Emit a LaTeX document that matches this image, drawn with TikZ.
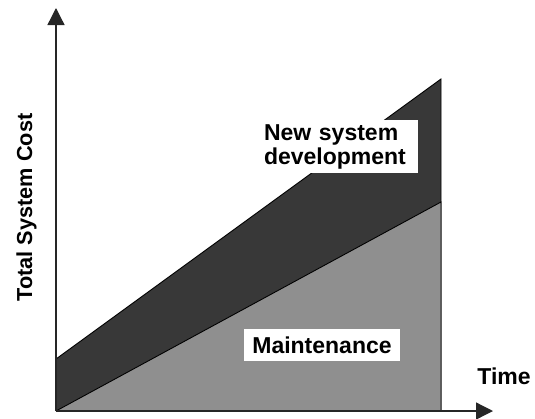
\documentclass[tikz,border=0pt]{standalone}
\usepackage{fontspec}
\setmainfont{Liberation Sans}
\usetikzlibrary{arrows.meta}
\definecolor{darkband}{gray}{0.22}
\definecolor{lightband}{gray}{0.56}
\tikzset{
  lbl/.style={font=\bfseries\fontsize{23}{24}\selectfont, text=black},
  boxlbl/.style={lbl, fill=white, inner sep=0pt, align=left},
  axis/.style={line width=1.3pt, draw=black!85, -{Triangle[width=17pt,length=17pt]}},
  band/.style={draw=black, line width=0.9pt}
}
\begin{document}
\begin{tikzpicture}[x=1pt,y=-1pt]
\useasboundingbox (0,0) rectangle (535,418);
% named points
\coordinate (O) at (56,411);
\coordinate (Ytop) at (56,8);
\coordinate (Xend) at (493,411);
\coordinate (Dl) at (56,359);
\coordinate (Dr) at (441,79);
\coordinate (Lr) at (441,202);
\coordinate (Br) at (441,411);
% bands
\fill[darkband] (Dl) -- (Dr) -- (Br) -- (O) -- cycle;
\draw[band] (Dl) -- (Dr) -- (Br);
\fill[lightband] (O) -- (Lr) -- (Br) -- cycle;
\draw[band] (O) -- (Lr) -- (Br);
% axes
\draw[axis] (O) -- (Ytop);
\draw[axis] (O) -- (Xend);
% labels
\node[boxlbl, minimum width=162pt, minimum height=53pt, text width=146pt] (nsd) at (337,146.5) {New system\\development};
\node[boxlbl, minimum width=156pt, minimum height=32pt] (mnt) at (322,345) {Maintenance};
\node[lbl, anchor=base, inner sep=0pt] (time) at (504,384) {Time};
\node[lbl, font=\bfseries\fontsize{21.7}{24}\selectfont, anchor=base, rotate=90, inner sep=0pt] (tsc) at (32,207.5) {Total System Cost};
\end{tikzpicture}
\end{document}
